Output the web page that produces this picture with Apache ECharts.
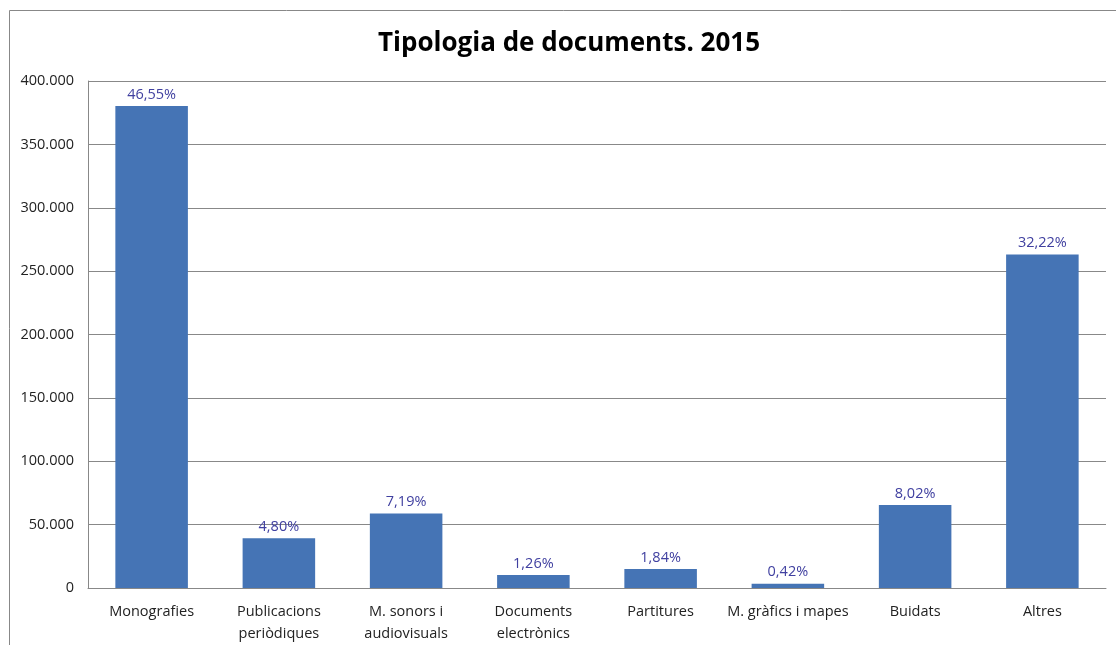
<!DOCTYPE html>
<html><head><meta charset="utf-8">
<script src="https://cdn.jsdelivr.net/npm/echarts@6/dist/echarts.min.js"></script>
<style>html,body{margin:0;padding:0;background:#fff}#c{width:1116px;height:645px}</style>
</head><body><div id="c"></div>
<script>
const categories = ["Monografies", "Publicacions\nperiòdiques", "M. sonors i\naudiovisuals", "Documents\nelectrònics", "Partitures", "M. gràfics i mapes", "Buidats", "Altres"];
const values = [380300, 39200, 58700, 10300, 15000, 3400, 65500, 263200];
const percentLabels = ["46,55%", "4,80%", "7,19%", "1,26%", "1,84%", "0,42%", "8,02%", "32,22%"];
const titleText = "Tipologia de documents. 2015";

const chart = echarts.init(document.getElementById('c'), null, {renderer: 'canvas'});
const font = "'Open Sans', 'Noto Sans', sans-serif";
chart.setOption({
  animation: false,
  backgroundColor: '#fff',
  title: {
    text: titleText, left: 373, top: 26,
    textStyle: {fontFamily: font, fontSize: 26, fontWeight: 'bold', color: '#000'}
  },
  graphic: [{
    type: 'rect', left: 7, top: 8, z: -1,
    shape: {width: 1200, height: 700},
    style: {fill: 'none', stroke: '#888', lineWidth: 1}
  }],
  grid: {left: 88, right: 10, top: 81, bottom: 57, containLabel: false},
  xAxis: {
    type: 'category', data: categories,
    axisLine: {show: true, lineStyle: {color: '#888'}},
    axisTick: {show: false},
    axisLabel: {fontFamily: font, fontSize: 14.5, color: '#222', margin: 13, lineHeight: 22, interval: 0}
  },
  yAxis: {
    type: 'value', min: 0, max: 400000, interval: 50000,
    axisLine: {show: true, lineStyle: {color: '#888'}},
    axisTick: {show: false},
    splitLine: {lineStyle: {color: '#888', width: 1}},
    axisLabel: {
      fontFamily: font, fontSize: 14.5, color: '#222', margin: 14,
      formatter: v => v === 0 ? '0' : v.toLocaleString('de-DE')
    }
  },
  series: [{
    type: 'bar', data: values, barWidth: '57%',
    itemStyle: {color: '#4574b5'},
    label: {
      show: true, position: 'top', distance: 4,
      fontFamily: font, fontSize: 14.5, color: '#4040a0',
      formatter: p => percentLabels[p.dataIndex]
    }
  }]
});
</script></body></html>
